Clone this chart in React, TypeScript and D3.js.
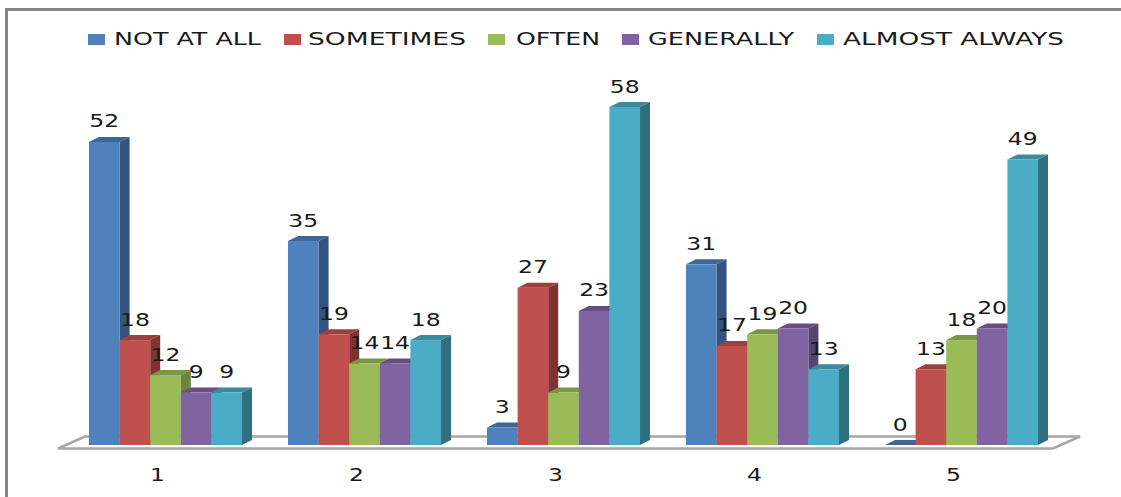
import * as d3 from 'd3';

const categories = ['1', '2', '3', '4', '5'];
const seriesNames = ['NOT AT ALL', 'SOMETIMES', 'OFTEN', 'GENERALLY', 'ALMOST ALWAYS'];
const notAtAll = [52, 35, 3, 31, 0];
const sometimes = [18, 19, 27, 17, 13];
const often = [12, 14, 9, 19, 18];
const generally = [9, 14, 23, 20, 20];
const almostAlways = [9, 18, 58, 13, 49];
const seriesValues = [notAtAll, sometimes, often, generally, almostAlways];

const frontColors = ['#4f81bd', '#c0504d', '#9bbb59', '#8064a2', '#4bacc6'];
const sideColors = ['#33547f', '#7f3230', '#6b833a', '#57436f', '#2f6f80'];
const topColors = ['#3f6697', '#9a403e', '#7c9647', '#664f82', '#3c8a9f'];
const legendX = [88, 284, 488, 622, 817];
const legendTextX = [114, 308, 516, 648, 843];
const legendTextWidth = [147, 158, 84, 146, 221];

const width = 1121;
const height = 497;
const baseY = 445;
const depthX = 10;
const depthY = 5;
const fontFamily = '"DejaVu Sans", sans-serif';
const labelStretch = 1.27;

const App = () => {
  const x0 = d3
    .scaleBand<string>()
    .domain(categories)
    .range([66, 1061])
    .paddingInner(0.231)
    .paddingOuter(0.1155);
  const x1 = d3
    .scaleBand<string>()
    .domain(seriesNames)
    .range([0, x0.bandwidth()]);
  const y = d3.scaleLinear().domain([0, 58]).range([baseY, 107]);

  const line = d3.line();

  return (
    <svg
      width={width}
      height={height}
      style={{ position: 'absolute', left: 0, top: 0, background: 'white' }}
    >
      {/* outer frame, only top and left are visible */}
      <path d="M6.5,497V9.5H1121" fill="none" stroke="#868686" strokeWidth={3} />

      {/* legend */}
      {seriesNames.map((name, i) => (
        <g key={name}>
          <rect x={legendX[i]} y={34} width={17} height={11} fill={frontColors[i]} />
          <text
            x={legendTextX[i]}
            y={45}
            textLength={legendTextWidth[i]}
            lengthAdjust="spacingAndGlyphs"
            fontFamily={fontFamily}
            fontSize={18}
            fill="#1a1a1a"
          >
            {name}
          </text>
        </g>
      ))}

      {/* floor */}
      <path
        d={line([[58, 448.5], [85, 436.5], [1080, 436.5], [1053, 448.5]]) + 'Z'}
        fill="white"
        stroke="#a6a6a6"
        strokeWidth={2.5}
      />

      {/* bars */}
      {categories.map((cat, c) =>
        seriesNames.map((name, s) => {
          const v = seriesValues[s][c];
          const left = (x0(cat) as number) + (x1(name) as number);
          const right = left + x1.bandwidth();
          const top = y(v);
          return (
            <g key={`${cat}-${name}`}>
              <path
                d={line([[left, top], [left + depthX, top - depthY], [right + depthX, top - depthY], [right, top]]) + 'Z'}
                fill={topColors[s]}
              />
              <path
                d={line([[right, top], [right + depthX, top - depthY], [right + depthX, baseY - depthY], [right, baseY]]) + 'Z'}
                fill={sideColors[s]}
              />
              {v > 0 && (
                <rect x={left} y={top} width={x1.bandwidth()} height={baseY - top} fill={frontColors[s]} />
              )}
            </g>
          );
        })
      )}

      {/* data labels go on top of every bar */}
      {categories.map((cat, c) =>
        seriesNames.map((name, s) => {
          const v = seriesValues[s][c];
          const cx = (x0(cat) as number) + (x1(name) as number) + x1.bandwidth() / 2;
          return (
            <text
              key={`${cat}-${name}-label`}
              transform={`translate(${cx},${y(v) - 14.5}) scale(${labelStretch},1)`}
              textAnchor="middle"
              fontFamily={fontFamily}
              fontSize={18.5}
              fill="#1a1a1a"
            >
              {v}
            </text>
          );
        })
      )}

      {/* category labels */}
      {categories.map((cat) => (
        <text
          key={cat}
          transform={`translate(${(x0(cat) as number) + x0.bandwidth() / 2 - 8},481) scale(${labelStretch},1)`}
          textAnchor="middle"
          fontFamily={fontFamily}
          fontSize={18.5}
          fill="#1a1a1a"
        >
          {cat}
        </text>
      ))}
    </svg>
  );
};

export default App;
